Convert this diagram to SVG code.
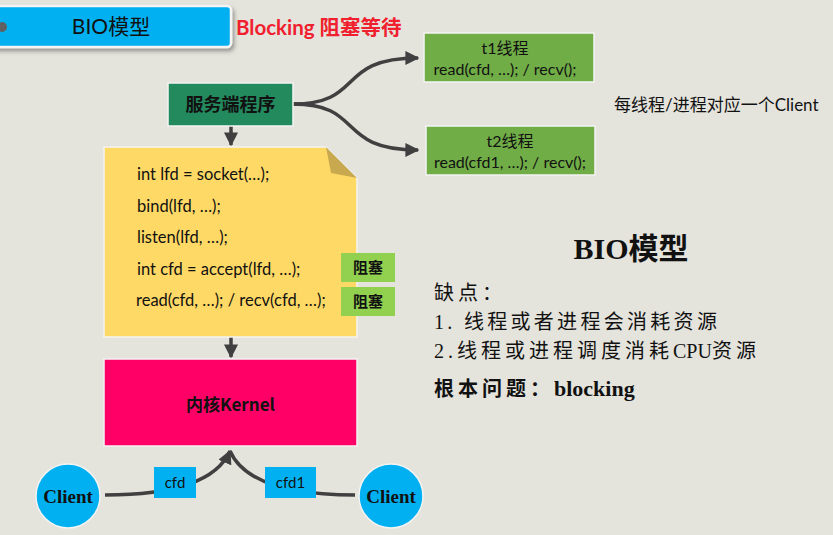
<svg xmlns="http://www.w3.org/2000/svg" width="833" height="535" viewBox="0 0 833 535">
<defs>
<marker id="ah" viewBox="0 0 10 10" refX="9" refY="5" markerWidth="4" markerHeight="4" orient="auto-start-reverse">
<path d="M0,0 L10,5 L0,10 z" fill="#404040"/>
</marker>
<filter id="sh" x="-10%" y="-30%" width="120%" height="160%">
<feDropShadow dx="2" dy="3" stdDeviation="2" flood-color="#000" flood-opacity="0.35"/>
</filter>
<style>
.sans{font-family:"Lato","Liberation Sans","Noto Sans CJK SC",sans-serif;}
.ser{font-family:"Liberation Serif","Noto Sans CJK SC",serif;}
.code{font-family:"Lato","Liberation Sans",sans-serif;font-size:16.5px;fill:#111;}
.conn{fill:none;stroke:#404040;stroke-width:3.5;}
.tag{fill:#92d050;}
.tagt{font-family:"Noto Sans CJK SC",sans-serif;font-size:15px;font-weight:bold;fill:#111;text-anchor:middle;}
.cjk{letter-spacing:4px;}
</style>
</defs>
<rect width="833" height="535" fill="#e4e3dc"/>

<g id="title">
<rect x="-10" y="6" width="241" height="41" rx="4" fill="#00b0f0" stroke="#f4f4f4" stroke-width="2.5" filter="url(#sh)"/>
<circle cx="2" cy="27" r="5" fill="#606060"/>
<text x="111" y="34" class="sans" font-size="21" text-anchor="middle" fill="#111">BIO模型</text>
</g>
<text x="236" y="35" class="sans" font-size="20.5" font-weight="bold" fill="#f0202e">Blocking 阻塞等待</text>

<g id="connectors">
<path class="conn" d="M293,104 C365,104 335,58 418,58" marker-end="url(#ah)"/>
<path class="conn" d="M293,104 C365,104 335,150 418,150" marker-end="url(#ah)"/>
<line class="conn" x1="231" y1="126" x2="231" y2="145" marker-end="url(#ah)"/>
<line class="conn" x1="231" y1="337" x2="231" y2="357" marker-end="url(#ah)"/>
<path class="conn" d="M105,495 C165,495 215,485 230,451" marker-end="url(#ah)"/>
<path class="conn" d="M355,495 C295,495 245,485 230,451"/>
</g>

<g id="server">
<rect x="168" y="83" width="125" height="43" fill="#238a5e" stroke="#f4f4f4" stroke-width="1.5"/>
<text x="230.5" y="111" font-family="Noto Sans CJK SC,sans-serif" font-size="18" font-weight="bold" text-anchor="middle" fill="#111">服务端程序</text>
</g>

<g id="t1">
<rect x="424" y="33" width="170" height="49" fill="#70ad47" stroke="#f4f4f4" stroke-width="1.5"/>
<text x="505" y="54" class="sans" font-size="16" text-anchor="middle" fill="#111">t1线程</text>
<text x="505" y="75" class="sans" font-size="16" text-anchor="middle" fill="#111">read(cfd, …); / recv();</text>
</g>
<g id="t2">
<rect x="426" y="126" width="169" height="49" fill="#70ad47" stroke="#f4f4f4" stroke-width="1.5"/>
<text x="510" y="147" class="sans" font-size="16" text-anchor="middle" fill="#111">t2线程</text>
<text x="510" y="168" class="sans" font-size="16" text-anchor="middle" fill="#111">read(cfd1, …); / recv();</text>
</g>
<text x="614" y="111" class="sans" font-size="17" fill="#111">每线程/进程对应一个Client</text>

<g id="code">
<path d="M104,147 L326,147 L357,178 L357,337 L104,337 z" fill="#ffd966" stroke="#f4f4f4" stroke-width="1.5"/>
<path d="M326,147 L331,173 L357,178 z" fill="#c9a94f"/>
<text x="137" y="180" class="code">int lfd = socket(…);</text>
<text x="137" y="212" class="code">bind(lfd, …);</text>
<text x="137" y="243" class="code">listen(lfd, …);</text>
<text x="137" y="275" class="code">int cfd = accept(lfd, …);</text>
<text x="136" y="306" class="code">read(cfd, …); / recv(cfd, …);</text>
</g>
<g id="block1">
<rect class="tag" x="341" y="253" width="54" height="29"/>
<text class="tagt" x="368" y="273">阻塞</text>
</g>
<g id="block2">
<rect class="tag" x="341" y="287" width="54" height="29"/>
<text class="tagt" x="368" y="307">阻塞</text>
</g>

<g id="kernel">
<rect x="104" y="359" width="253" height="87" fill="#ff0066" stroke="#f4f4f4" stroke-width="1.5"/>
<text x="230.5" y="411" font-family="Noto Sans CJK SC,sans-serif" font-size="17" font-weight="bold" text-anchor="middle" fill="#111">内核Kernel</text>
</g>

<g id="client1">
<circle cx="68" cy="496" r="32" fill="#00b0f0" stroke="#f4f4f4" stroke-width="1.5"/>
<text x="68" y="503" class="ser" font-size="19" font-weight="bold" text-anchor="middle" fill="#111">Client</text>
</g>
<g id="client2">
<circle cx="391" cy="496" r="32" fill="#00b0f0" stroke="#f4f4f4" stroke-width="1.5"/>
<text x="391" y="503" class="ser" font-size="19" font-weight="bold" text-anchor="middle" fill="#111">Client</text>
</g>
<g id="cfd">
<rect x="154" y="467" width="42" height="31" fill="#00b0f0"/>
<text x="175" y="488" class="sans" font-size="15" text-anchor="middle" fill="#111">cfd</text>
</g>
<g id="cfd1">
<rect x="265" y="467" width="51" height="31" fill="#00b0f0"/>
<text x="290.5" y="488" class="sans" font-size="15" text-anchor="middle" fill="#111">cfd1</text>
</g>

<g id="notes">
<text x="631" y="259" class="ser" font-size="30" font-weight="bold" text-anchor="middle" fill="#111">BIO模型</text>
<text x="434" y="300" class="ser cjk" font-size="20" fill="#111">缺点：</text>
<text x="434" y="329" class="ser" font-size="20" letter-spacing="3.3" fill="#111">1. 线程或者进程会消耗资源</text>
<text x="434" y="358" class="ser cjk" font-size="20" fill="#111">2.线程或进程调度消耗<tspan letter-spacing="0">CPU</tspan>资源</text>
<text x="434" y="396" class="ser" font-size="20" font-weight="bold" fill="#111"><tspan letter-spacing="4">根本问题：</tspan><tspan font-size="22">blocking</tspan></text>
</g>
</svg>
